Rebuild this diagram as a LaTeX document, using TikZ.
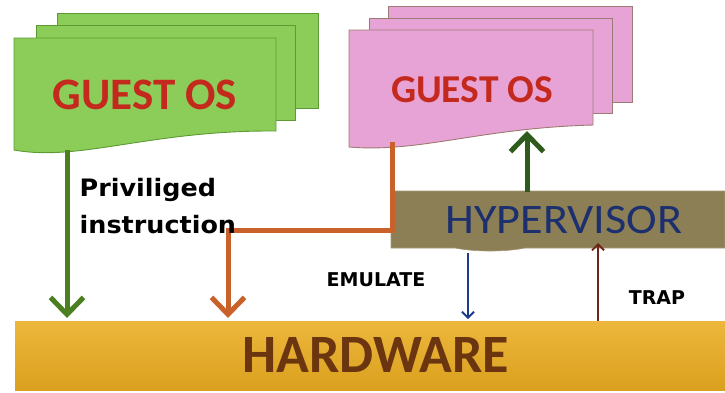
\documentclass[tikz,border=0pt]{standalone}
\usepackage{fontspec}
\setmainfont{Carlito}
\newfontfamily\labelfont{DejaVu Sans}
\usetikzlibrary{arrows.meta,calc}

\definecolor{guestgreen}{HTML}{8CCD5A}
\definecolor{greenedge}{HTML}{5C9A34}
\definecolor{guestpink}{HTML}{E7A3D5}
\definecolor{pinkedge}{HTML}{9C7C72}
\definecolor{guestred}{HTML}{C4291D}
\definecolor{hyperfill}{HTML}{8C7E55}
\definecolor{hypertext}{HTML}{1C2F6E}
\definecolor{hwtop}{HTML}{ECB73C}
\definecolor{hwbottom}{HTML}{DBA01E}
\definecolor{hwtext}{HTML}{6B3510}
\definecolor{privgreen}{HTML}{4B7F22}
\definecolor{upgreen}{HTML}{2E5A1C}
\definecolor{emuorange}{HTML}{C8612A}
\definecolor{emublue}{HTML}{1E3A8A}
\definecolor{trapred}{HTML}{6E2418}

\begin{document}
\begin{tikzpicture}[x=1pt, y=-1pt, >=Stealth,
    greenpage/.style={draw=greenedge, fill=guestgreen, line width=0.9pt},
    pinkpage/.style={draw=pinkedge, fill=guestpink, line width=0.9pt},
    bigarrow/.style={line width=5pt, -{Straight Barb[length=17pt, width=33pt]}},
    thinarrow/.style={line width=1.8pt, -{Straight Barb[length=6pt, width=12pt]}},
    smalllabel/.style={font=\labelfont\bfseries\fontsize{19}{22}\selectfont}]

    %% Background
    \useasboundingbox (0,0) rectangle (725,392);

    % Guest OS, left
    \draw[greenpage] (57,13) rectangle (318,108);
    \draw[greenpage] (36,25) rectangle (295,120);
    \draw[greenpage] (14,38) -- (276,38) -- (276,131)
        .. controls (150,130) and (80,162) .. (14,150) -- cycle;
    \node[text=guestred, font=\bfseries\fontsize{45}{50}\selectfont] (guestL) at (145,95) {GUEST OS};

    % Guest OS, right
    \draw[pinkpage] (388,6) rectangle (632,102);
    \draw[pinkpage] (369,18) rectangle (612,113);
    \draw[pinkpage] (349,30) -- (593,30) -- (593,125)
        .. controls (480,128) and (420,153) .. (349,147) -- cycle;
    \node[text=guestred, font=\bfseries\fontsize{39.5}{44}\selectfont] (guestR) at (472,90) {GUEST OS};

    % Hypervisor
    \draw[draw=hyperfill!80!white, fill=hyperfill, line width=0.6pt]
    (391,191) -- (725,191) -- (725,248) -- (525,248)
    .. controls (505,252) and (475,252) .. (455,248) -- (391,248) -- cycle;
    \node[text=hypertext, font=\fontsize{42}{46}\selectfont, xscale=1.1] (hyper) at (564,220) {HYPERVISOR};

    % Hardware
    \shade[top color=hwtop, bottom color=hwbottom] (15,321) rectangle (725,390);
    \node[text=hwtext, font=\bfseries\fontsize{54}{60}\selectfont] (hard) at (376,355) {HARDWARE};

    % Coordinate
    \coordinate (gl-out) at (67,150);
    \coordinate (hw-priv) at (67,318);
    \coordinate (gr-out) at (392,142);
    \coordinate (bend1) at (392,230);
    \coordinate (bend2) at (228,230);
    \coordinate (hw-emu) at (228,318);
    \coordinate (hv-top) at (527,192);
    \coordinate (gr-in) at (527,131);
    \coordinate (hv-out) at (468,253);
    \coordinate (hw-out) at (468,319);
    \coordinate (hw-trap) at (598,321);
    \coordinate (hv-in) at (598,243);

    % Arrows
    \draw[bigarrow, privgreen] (gl-out) -- (hw-priv);
    \draw[bigarrow, emuorange] (gr-out) -- (bend1) -- (bend2) -- (hw-emu);
    \draw[bigarrow, upgreen] (hv-top) -- (gr-in);
    \draw[thinarrow, emublue] (hv-out) -- (hw-out);
    \draw[thinarrow, trapred] (hw-trap) -- (hv-in);

    \node[anchor=west, align=left, font=\labelfont\bfseries\fontsize{24}{37}\selectfont, xscale=1.06]
        (priv) at (76,206) {Priviliged\\instruction};
    \node[smalllabel] (emul) at (376,280) {EMULATE};
    \node[smalllabel] (trap) at (657,298) {TRAP};

\end{tikzpicture}
\end{document}
